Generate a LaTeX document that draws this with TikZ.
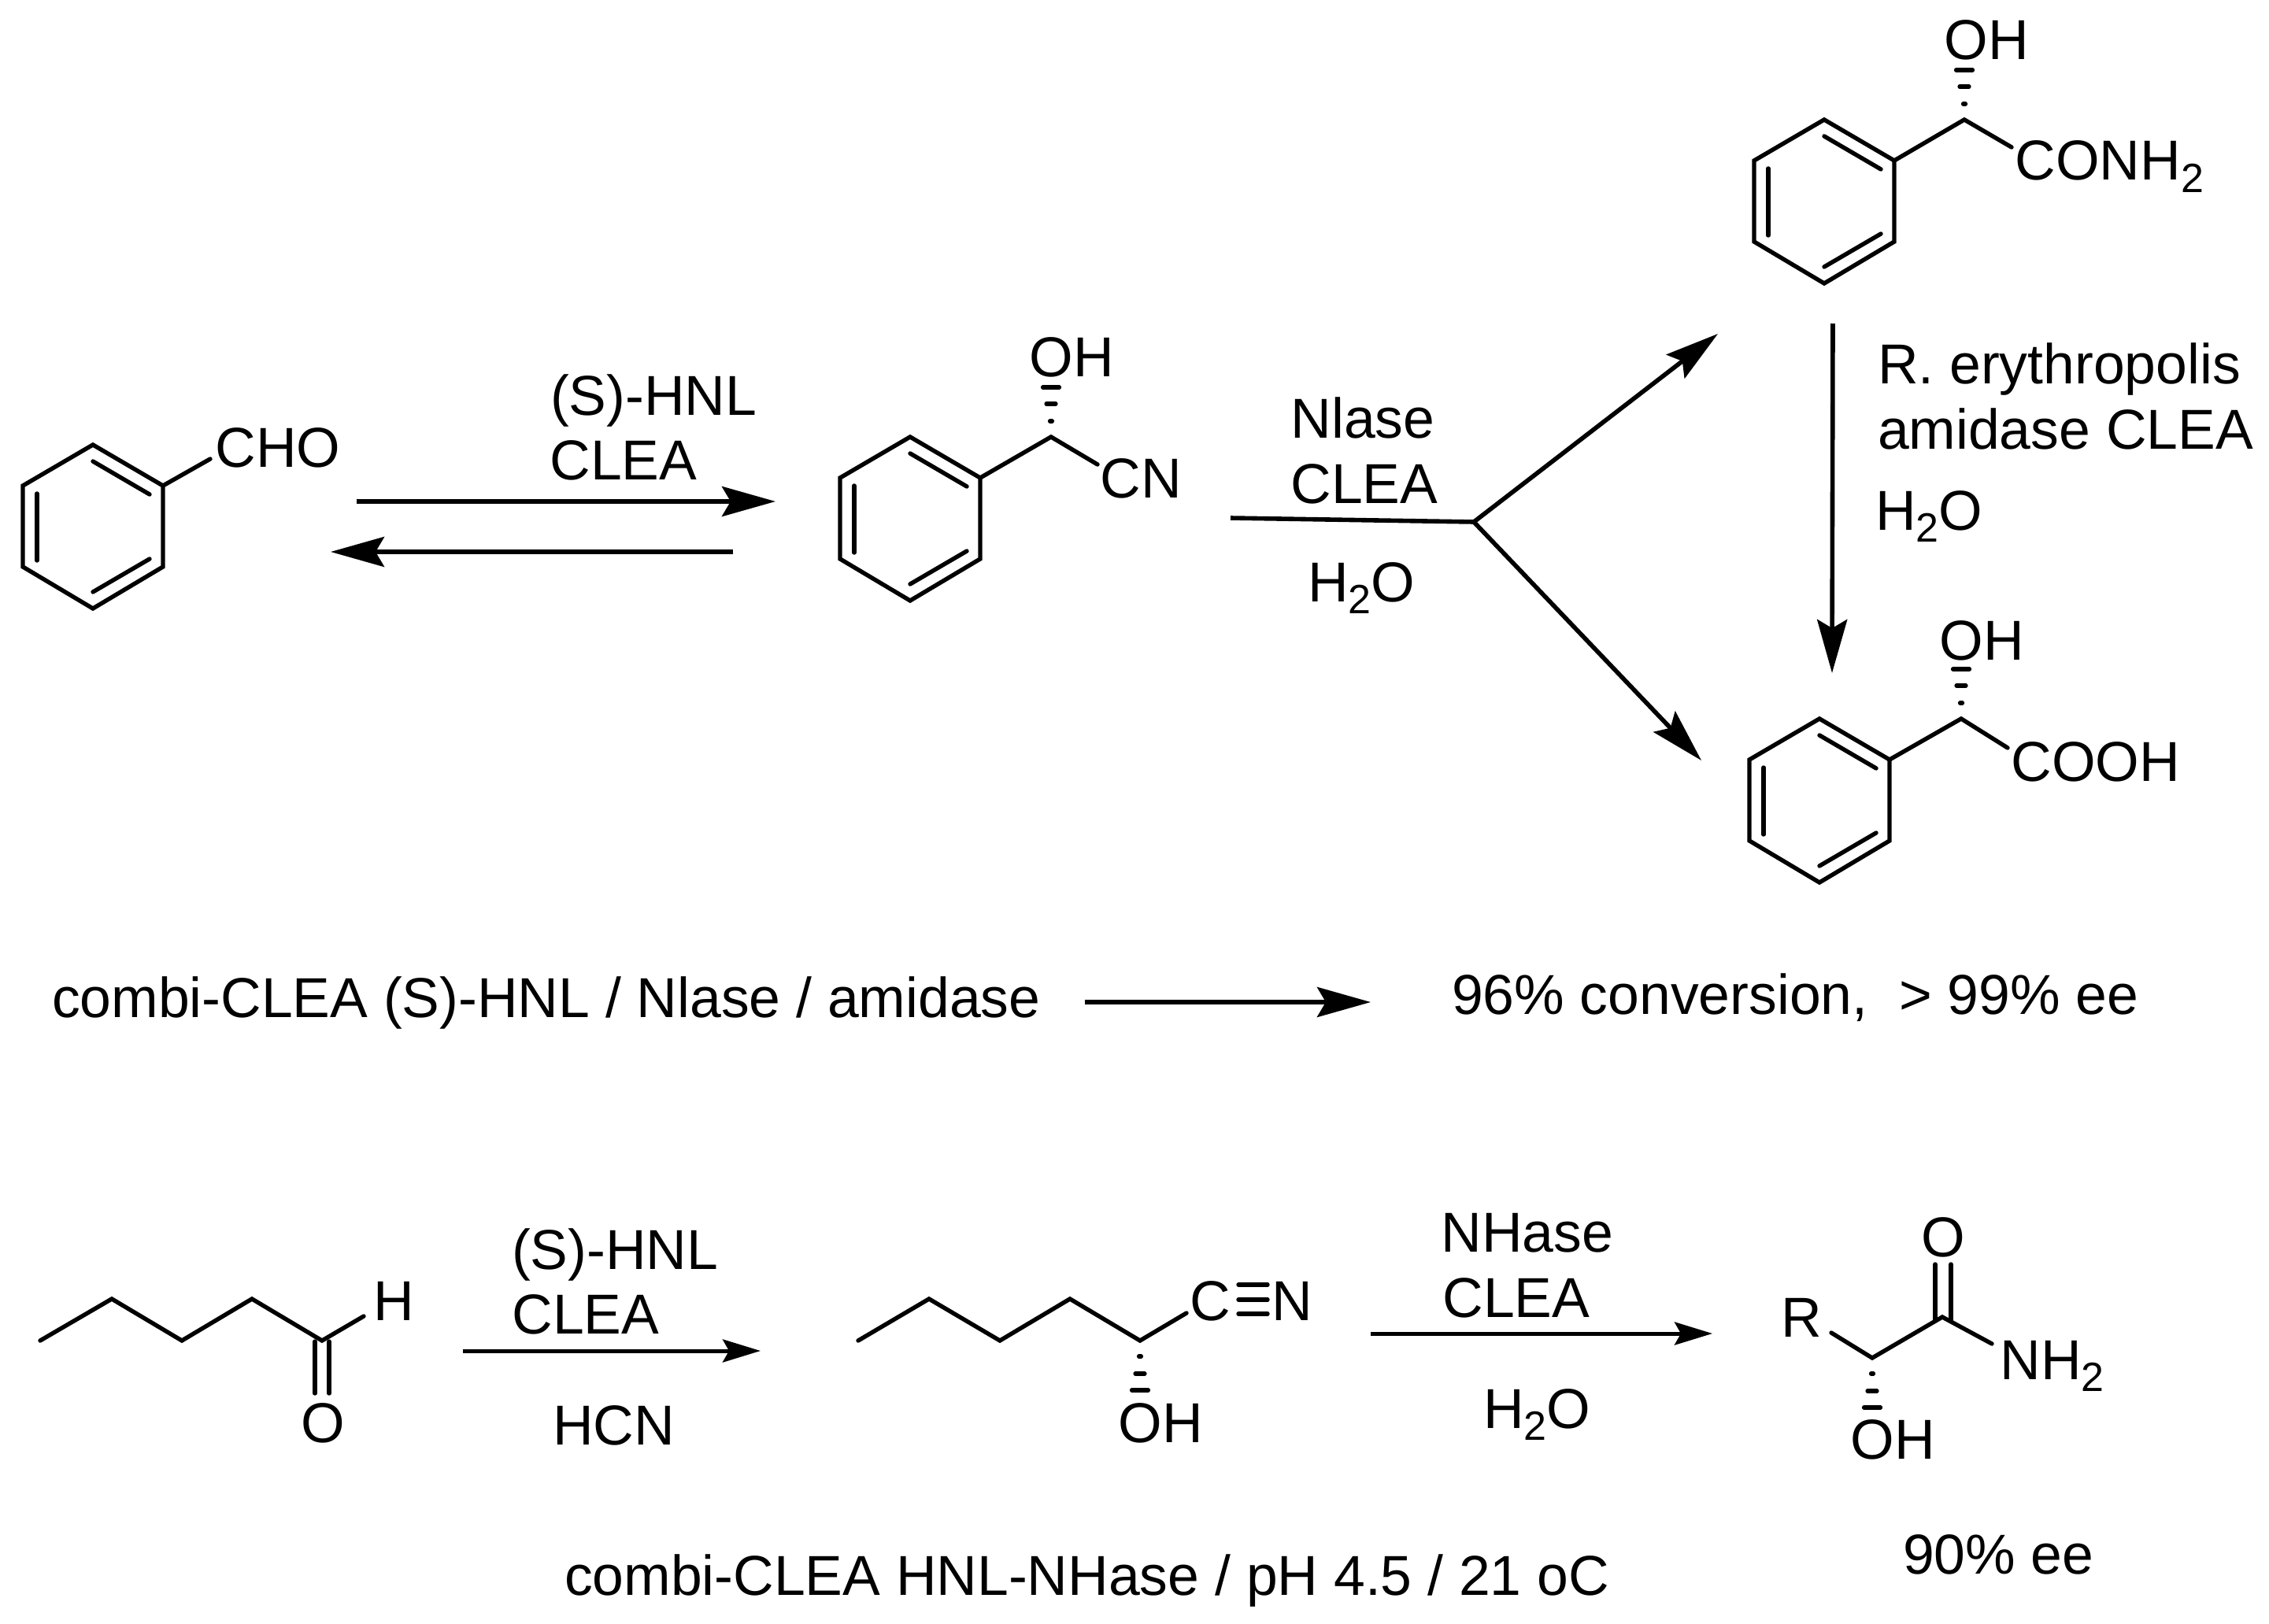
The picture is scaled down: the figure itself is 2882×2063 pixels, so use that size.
\documentclass[tikz,border=0pt]{standalone}
\usepackage{fontspec}
\setmainfont{Liberation Sans}
\usetikzlibrary{arrows.meta}
\newcommand{\lbl}{\fontsize{71.5}{80}\selectfont}
\newcommand{\subd}[1]{\raisebox{-15.5pt}{\fontsize{52}{52}\selectfont #1}}
\tikzset{
  txt/.style={anchor=base west,inner sep=0pt,outer sep=0pt,font=\lbl,text=black},
  bond/.style={draw=black,line width=5.4pt,line cap=round,line join=miter},
  hashmark/.style={draw=black,line width=5.2pt,line cap=round},
  bigarrow/.style={draw=black,line width=5.6pt,line join=miter,-{Stealth[length=68pt,width=38pt,inset=11pt]}},
  smallarrow/.style={draw=black,line width=5pt,-{Stealth[length=48pt,width=29pt,inset=8pt]}}
}
% ring: name, centre x, top y
\newcommand{\ringat}[3]{%
  \begin{scope}[shift={(#2,#3)}]
    \coordinate (#1a) at (0,0);
    \coordinate (#1b) at (89,52);
    \coordinate (#1c) at (89,155);
    \coordinate (#1d) at (0,208);
    \coordinate (#1e) at (-89,155);
    \coordinate (#1f) at (-89,52);
    \coordinate (#1p) at (0,21);
    \coordinate (#1q) at (72,63);
    \coordinate (#1r) at (-71,62);
    \coordinate (#1s) at (-71,147);
    \coordinate (#1t) at (0,187);
    \coordinate (#1u) at (72,145);
  \end{scope}
  \draw[bond] (#1a) -- (#1b) -- (#1c) -- (#1d) -- (#1e) -- (#1f) -- cycle;
  \draw[bond] (#1p) -- (#1q);
  \draw[bond] (#1r) -- (#1s);
  \draw[bond] (#1t) -- (#1u);
}
% hashed wedge from a stereocentre: atom name, direction (-1 up, 1 down)
\newcommand{\hashes}[2]{%
  \begin{scope}[shift={(#1)}]
    \draw[hashmark] (-1.5,#2*20) -- (1.5,#2*20);
    \draw[hashmark] (-6,#2*42) -- (6,#2*42);
    \draw[hashmark] (-10.5,#2*63) -- (10.5,#2*63);
  \end{scope}
}
\begin{document}
\begin{tikzpicture}[x=1pt,y=-1pt]
\useasboundingbox (0,0) rectangle (2882,2063);
\fill[white] (0,0) rectangle (2882,2063);

% benzaldehyde
\ringat{A}{118}{565}
\coordinate (Ax) at (267,583);
\draw[bond] (Ab) -- (Ax);
\node[txt] (cho) at (273.5,593) {CHO};

% first equilibrium
\coordinate (e1s) at (453,637);
\coordinate (e1t) at (985,637);
\coordinate (e2s) at (931,701);
\coordinate (e2t) at (420,701);
\draw[bigarrow] (e1s) -- (e1t);
\draw[bigarrow] (e2s) -- (e2t);
\node[txt] (hnl1) at (699,527) {(S)-HNL};
\node[txt] (clea1) at (698.5,609) {CLEA};

% mandelonitrile
\ringat{B}{1156}{555}
\coordinate (Bc) at (1335,555);
\coordinate (Bx) at (1394,590);
\draw[bond] (Bb) -- (Bc) -- (Bx);
\hashes{Bc}{-1}
\node[txt] (oh1) at (1307.5,478) {OH};
\node[txt] (cn1) at (1397.5,632) {CN};

% branching arrow
\coordinate (ys) at (1563,658);
\coordinate (yj) at (1872,663);
\coordinate (yu) at (2182,424);
\coordinate (yl) at (2161,966);
\draw[bigarrow] (ys) -- (yj) -- (yu);
\draw[bigarrow] (yj) -- (yl);
\node[txt] (nlase) at (1639.5,556) {Nlase};
\node[txt] (clea2) at (1639.5,639) {CLEA};
\node[txt] (w1) at (1661,764) {H\subd{2}O};

% mandelamide
\ringat{C}{2317}{152}
\coordinate (Cc) at (2495,152);
\coordinate (Cx) at (2555,187);
\draw[bond] (Cb) -- (Cc) -- (Cx);
\hashes{Cc}{-1}
\node[txt] (oh2) at (2469.5,76) {OH};
\node[txt] (conh) at (2559.5,229) {CONH\subd{2}};

% amidase arrow
\coordinate (vs) at (2328,411);
\coordinate (vt) at (2327,855);
\draw[bigarrow] (vs) -- (vt);
\node[txt] (ery) at (2385,487) {R. erythropolis};
\node[txt] (ami) at (2385,570) {amidase CLEA};
\node[txt] (w2) at (2382,673) {H\subd{2}O};

% mandelic acid
\ringat{D}{2311}{913}
\coordinate (Dc) at (2491,913);
\coordinate (Dx) at (2550,950);
\draw[bond] (Db) -- (Dc) -- (Dx);
\hashes{Dc}{-1}
\node[txt] (oh3) at (2463.5,838) {OH};
\node[txt] (cooh) at (2554.5,992) {COOH};

% summary line
\node[txt] (combi1) at (66,1292) {combi-CLEA (S)-HNL / Nlase / amidase};
\coordinate (rs) at (1378,1273);
\coordinate (rt) at (1741,1273);
\draw[bigarrow] (rs) -- (rt);
\node[txt] (conv) at (1844,1288) {96\% conversion,\ \ > 99\% ee};

% pentanal
\coordinate (P1) at (51,1703);
\coordinate (P2) at (142,1650);
\coordinate (P3) at (231,1703);
\coordinate (P4) at (320,1650);
\coordinate (P5) at (409,1703);
\coordinate (P6) at (462,1672);
\coordinate (P7) at (400,1704);
\coordinate (P8) at (400,1770);
\coordinate (P9) at (418,1704);
\coordinate (P10) at (418,1770);
\draw[bond] (P1) -- (P2) -- (P3) -- (P4) -- (P5) -- (P6);
\draw[bond] (P7) -- (P8);
\draw[bond] (P9) -- (P10);
\node[txt] (ph) at (474.5,1677) {H};
\node[txt] (po) at (382.5,1832) {O};

% first lower arrow
\coordinate (b1s) at (588,1716);
\coordinate (b1t) at (966,1716);
\draw[smallarrow] (b1s) -- (b1t);
\node[txt] (hnl2) at (650,1612) {(S)-HNL};
\node[txt] (clea3) at (650.5,1694) {CLEA};
\node[txt] (hcn) at (702,1835) {HCN};

% cyanohydrin
\coordinate (Q1) at (1090,1703);
\coordinate (Q2) at (1180,1650);
\coordinate (Q3) at (1270,1703);
\coordinate (Q4) at (1359,1650);
\coordinate (Q5) at (1448,1703);
\coordinate (Q6) at (1507,1668);
\draw[bond] (Q1) -- (Q2) -- (Q3) -- (Q4) -- (Q5) -- (Q6);
\hashes{Q5}{1}
\node[txt] (qc) at (1511.5,1677) {C};
\node[txt] (qn) at (1615.5,1677) {N};
\coordinate (T1a) at (1573,1632);
\coordinate (T1b) at (1610,1632);
\coordinate (T2a) at (1573,1651);
\coordinate (T2b) at (1610,1651);
\coordinate (T3a) at (1573,1669);
\coordinate (T3b) at (1610,1669);
\draw[bond] (T1a) -- (T1b);
\draw[bond] (T2a) -- (T2b);
\draw[bond] (T3a) -- (T3b);
\node[txt] (qoh) at (1420.5,1832) {OH};

% second lower arrow
\coordinate (b2s) at (1741,1694);
\coordinate (b2t) at (2175,1694);
\draw[smallarrow] (b2s) -- (b2t);
\node[txt] (nhase) at (1830.5,1590) {NHase};
\node[txt] (clea4) at (1832.5,1673) {CLEA};
\node[txt] (w3) at (1884,1814) {H\subd{2}O};

% amide
\coordinate (M1) at (2326,1693);
\coordinate (M2) at (2378,1725);
\coordinate (M3) at (2467,1673);
\coordinate (M4) at (2530,1707);
\coordinate (M5) at (2458,1677);
\coordinate (M6) at (2458,1606);
\coordinate (M7) at (2478,1677);
\coordinate (M8) at (2478,1606);
\draw[bond] (M1) -- (M2) -- (M3) -- (M4);
\draw[bond] (M5) -- (M6);
\draw[bond] (M7) -- (M8);
\hashes{M2}{1}
\node[txt] (mr) at (2262,1698) {R};
\node[txt] (mo) at (2440.5,1596) {O};
\node[txt] (mn) at (2540.5,1752) {NH\subd{2}};
\node[txt] (moh) at (2350.5,1853) {OH};

% captions
\node[txt] (combi2) at (717,2026) {combi-CLEA HNL-NHase / pH 4.5 / 21 oC};
\node[txt] (ee) at (2417,1999) {90\% ee};
\end{tikzpicture}
\end{document}
